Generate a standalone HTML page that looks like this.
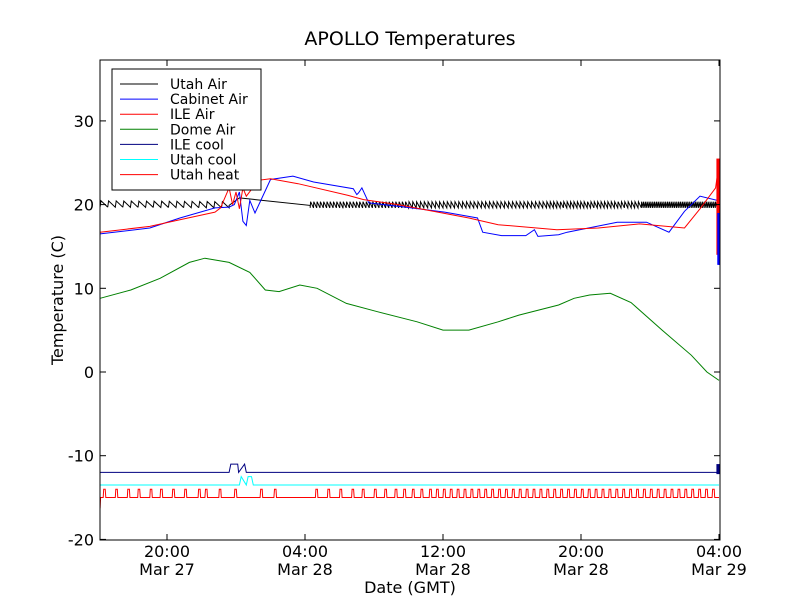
<!DOCTYPE html>
<html><head><meta charset="utf-8"><style>
body{margin:0;background:#fff}
svg text{font-family:"DejaVu Sans","Liberation Sans",sans-serif}
</style></head><body>
<svg id="c" width="800" height="600" xmlns="http://www.w3.org/2000/svg">
<rect x="0" y="0" width="800" height="600" fill="#fff"/>
<text x="410" y="45" text-anchor="middle" font-size="19">APOLLO Temperatures</text>
<g id="plot"></g>
<rect x="100" y="60" width="620" height="480" fill="none" stroke="#000" stroke-width="1"/>
<g id="axes"></g>
<text x="410" y="593" text-anchor="middle" font-size="16">Date (GMT)</text>
<text transform="translate(63,300) rotate(-90)" text-anchor="middle" font-size="16">Temperature (C)</text>
<g id="legend"></g>
</svg>
<script>
// hours relative to Mar 27 20:00 GMT
const xTickHours=[0,8,16,24,32];
const xTickTimes=["20:00","04:00","12:00","20:00","04:00"];
const xTickDates=["Mar 27","Mar 28","Mar 28","Mar 28","Mar 29"];
const yTicks=[30,20,10,0,-10,-20];
const cabinetT=[-3.88,-1,0.75,2.78,3.6,3.9,4.2,4.4,4.6,4.8,5.1,6,7.3,8.5,10.8,11,11.1,11.3,11.7,13.8,16.1,17.2,18,18.3,19.4,20.8,21.3,21.5,22.7,23.2,26.1,27.8,29.1,30,30.9,31.9,32.0];
const cabinetV=[16.5,17.2,18.4,19.6,19.7,20,21.5,18,17.5,20.5,19,23,23.4,22.7,21.9,21.2,21.4,22,20.2,19.7,19.1,18.7,18.4,16.7,16.3,16.3,17,16.2,16.4,16.7,17.9,17.9,16.7,19.2,21,20.5,12.8];
const ileAirT=[-3.88,-1,0.75,2.78,3.1,3.6,3.8,4.0,4.2,4.4,4.6,5.3,6,7.6,10.5,11.4,13.4,15.2,17.5,19.2,22.6,25,27.4,30,30.9,31.8,32.0];
const ileAirV=[16.7,17.4,18.2,19.1,19.6,22,20,21.5,19.5,22,21,22.9,23.1,22.5,21.1,20.6,20,19.3,18.4,17.6,17.0,17.2,17.7,17.2,19.5,22,25];
const domeT=[-3.88,-2.1,-0.4,1.3,2.2,3.6,4.8,5.7,6.5,7.7,8.7,10.4,12.2,14.5,16,17.5,19.2,20.4,22.7,23.6,24.5,25.7,26.9,28.7,30.4,31.3,32.0];
const domeV=[8.8,9.8,11.2,13.1,13.6,13.1,11.9,9.8,9.6,10.4,10.0,8.2,7.2,6.0,5.0,5.0,6.0,6.8,8.0,8.8,9.2,9.4,8.3,5.0,2.0,0,-1];
// Utah Air: segment boundaries, base temps at boundaries, thermostat cycles per segment
const utahAirT=[-3.88,3.6,4.2,8.3,14,22,27.5,32.0];
const utahAirV=[20.0,19.9,20.8,19.9,19.9,19.9,19.9,19.9];
const utahAirCycles=[17,0,0,30,36,28,42];
const ileCoolT=[-3.88,3.6,3.7,4.1,4.15,4.5,4.6,32.0];
const ileCoolV=[-12,-12,-11,-11,-12,-11,-12,-12];
const utahCoolT=[-3.88,4.2,4.3,4.6,4.7,4.9,5.0,32.0];
const utahCoolV=[-13.5,-13.5,-12.5,-13.5,-12.5,-12.5,-13.5,-13.5];
const heatPulseH=[-3.7,-3.0,-2.3,-1.7,-1.0,-0.4,0.3,1.0,1.8,2.2,3.0,3.9,5.4,6.2,8.6,9.3,10.0,10.7,11.3,12,12.6,13.2,13.7,14.2,14.7,15.2,15.6,16,16.4,16.8,17.2,17.6,18.0,18.4,18.8,19.2,19.6,20,20.4,20.8,21.2,21.6,22,22.4,22.8,23.2,23.6,24,24.4,24.8,25.2,25.6,26,26.4,26.8,27.2,27.6,28,28.4,28.8,29.2,29.6,30,30.4,30.8,31.2,31.6];
const heatBase=-15, heatOn=-14;

const X0=167,XS=17.25,Y0=372,YS=8.37;
const xs=h=>X0+h*XS, ys=v=>Y0-v*YS;
const NS="http://www.w3.org/2000/svg";
const plot=document.getElementById('plot'),axes=document.getElementById('axes'),leg=document.getElementById('legend');
function mk(tag,at,par){const e=document.createElementNS(NS,tag);for(const k in at)e.setAttribute(k,at[k]);par.appendChild(e);return e;}
function line(T,V,col,name){
  const d=T.map((t,i)=>(i?'L':'M')+xs(t).toFixed(1)+','+ys(V[i]).toFixed(1)).join('');
  const p=mk('path',{d:d,fill:'none',stroke:col,'stroke-width':1},plot);
  
  
}
(function(){
  const T=[],V=[];
  for(let s=0;s<utahAirT.length-1;s++){
    const t0=utahAirT[s],t1=utahAirT[s+1],v0=utahAirV[s],v1=utahAirV[s+1],n=utahAirCycles[s];
    if(!n){T.push(t0,t1);V.push(v0,v1);continue;}
    const dt=(t1-t0)/n;
    for(let k=0;k<n;k++){const a=t0+k*dt,v=v0+(v1-v0)*k/n;
      T.push(a,a+dt*0.12,a+dt);V.push(v-0.3,v+0.45,v-0.3);}
  }
  line(T,V,'#000','utah-air-line');
})();
line(cabinetT,cabinetV,'#0000ff','cabinet-air-line');
line(ileAirT,ileAirV,'#ff0000','ile-air-line');
line(domeT,domeV,'#008000','dome-air-line');
line(ileCoolT,ileCoolV,'#000080','ile-cool-line');
line(utahCoolT,utahCoolV,'#00ffff','utah-cool-line');
(function(){
  const T=[-3.88,-3.85],V=[-16.3,heatBase];
  heatPulseH.forEach(h=>{T.push(h,h+0.03,h+0.12,h+0.15);V.push(heatBase,heatOn,heatOn,heatBase);});
  T.push(32.0);V.push(heatBase);
  line(T,V,'#ff0000','utah-heat-line');
})();
const blk=(x1,v1,x2,v2,c,n)=>{const r=mk('rect',{x:xs(x1),y:ys(v1),width:xs(x2)-xs(x1),height:ys(v2)-ys(v1),fill:c},plot);};
blk(31.85,25.5,32.07,14,'#ff0000','ile-air-noise');
blk(31.9,19,32.07,12.8,'#0000ff','cabinet-air-noise');
blk(31.85,-11,32.07,-12.2,'#000080','ile-cool-noise');
yTicks.forEach(v=>{const y=ys(v);
  mk('line',{x1:100,y1:y,x2:106,y2:y,stroke:'#000'},axes);mk('line',{x1:720,y1:y,x2:714,y2:y,stroke:'#000'},axes);
  const t=mk('text',{x:94,y:y+6,'text-anchor':'end','font-size':16},axes);t.textContent=v;
  });
xTickHours.forEach((h,i)=>{const x=xs(h);
  mk('line',{x1:x,y1:540,x2:x,y2:534,stroke:'#000'},axes);mk('line',{x1:x,y1:60,x2:x,y2:66,stroke:'#000'},axes);
  const t=mk('text',{x:x,y:557,'text-anchor':'middle','font-size':16},axes);t.textContent=xTickTimes[i];
  
  const d=mk('text',{x:x,y:575,'text-anchor':'middle','font-size':16},axes);d.textContent=xTickDates[i];
  });
const legNames=["Utah Air","Cabinet Air","ILE Air","Dome Air","ILE cool","Utah cool","Utah heat"];
const legCols=["#000","#0000ff","#ff0000","#008000","#000080","#00ffff","#ff0000"];
mk('rect',{x:112,y:69,width:149,height:121,fill:'#fff',stroke:'#000'},leg);
legNames.forEach((n,i)=>{const y=84+i*15.1;
  const g=mk('g',{},leg);
  
  
  mk('line',{x1:120,y1:y,x2:158,y2:y,stroke:legCols[i]},g);
  const t=mk('text',{x:170,y:y+5,'font-size':14},g);t.textContent=n;});
</script>
</body></html>
